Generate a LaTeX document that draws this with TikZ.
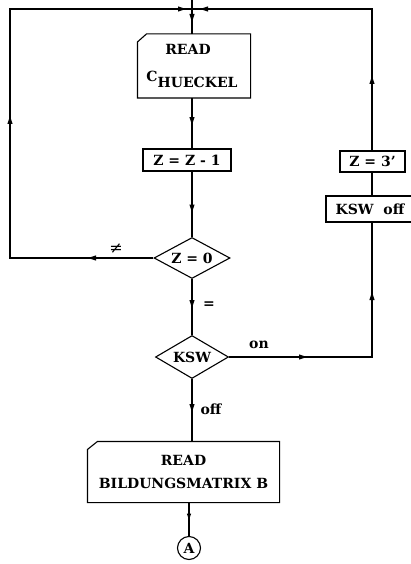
\documentclass[tikz,border=0pt]{standalone}
\usepackage{fontspec}
\setmainfont{DejaVu Serif}
\usetikzlibrary{shapes.geometric,calc}
\begin{document}
\begin{tikzpicture}[x=1pt,y=-1pt,
  line width=1.1pt,
  every node/.style={font=\bfseries\fontsize{14}{16}\selectfont},
  procbox/.style={draw,rectangle,inner sep=0pt},
  iobox/.style={rectangle,inner sep=0pt,align=center},
  decision/.style={draw,diamond,aspect=1.8,inner sep=0pt},
  connector/.style={draw,circle,inner sep=0pt,minimum size=23pt},
  lbl/.style={inner sep=1pt},
  arrD/.pic={\fill (-2.6,-8) -- (2.6,-8) -- (0,0) -- cycle;},
  arrU/.pic={\fill (-2.6,8) -- (2.6,8) -- (0,0) -- cycle;},
  arrL/.pic={\fill (8,-2.6) -- (8,2.6) -- (0,0) -- cycle;},
  arrR/.pic={\fill (-8,-2.6) -- (-8,2.6) -- (0,0) -- cycle;},
  arrDs/.pic={\fill (-2.2,-6) -- (2.2,-6) -- (0,0) -- cycle;},
]
\useasboundingbox (0,0) rectangle (411,564);

% column coordinates
\coordinate (cx) at (192,0);
\coordinate (rx) at (372,0);
\coordinate (lx) at (10,0);
\coordinate (top) at (192,0);
\coordinate (jn) at (192,9);

% nodes
\node[iobox,minimum width=112pt,minimum height=63pt] (read) at (194,66) {};
\node (readt) at (188,49) {READ};
\node (ch) at (192,79) {C\raisebox{-6pt}{HUECKEL}};
\draw (read.north west) ++(0,8) -- ++(9,-8) -- (read.north east) -- (read.south east) -- (read.south west) -- cycle;

\node[procbox,minimum width=88pt,minimum height=22pt] (zz) at (187,160) {Z = Z - 1};
\node[decision,minimum width=76pt,minimum height=41pt] (z0) at (192,258) {Z = 0};
\node[decision,minimum width=73pt,minimum height=43pt] (kswd) at (192,357) {KSW};

\node[iobox,minimum width=191pt,minimum height=60pt] (bild) at (183.5,472) {READ\\[7pt]BILDUNGSMATRIX B};
\draw (bild.north west) ++(0,8) -- ++(10,-8) -- (bild.north east) -- (bild.south east) -- (bild.south west) -- cycle;

\node[connector] (ca) at (189,548) {A};

\node[procbox,minimum width=65pt,minimum height=21pt] (z3) at (372.5,161.5) {Z = 3'};
\node[procbox,minimum width=88pt,minimum height=26pt] (ksoff) at (370,209) {KSW~~off\hspace{12pt}};

% labels
\node[lbl,font=\fontsize{16}{16}\selectfont] (lne) at (116,249) {≠};
\node[lbl] (leq) at (209,305) {=};
\node[lbl] (lon) at (259,345) {on};
\node[lbl] (loff) at (211,409) {off};

% central column
\draw (top) -- (read.north -| cx);
\pic at ($(top)+(0,22)$) {arrD};
\draw (read.south -| cx) -- (zz.north -| cx);
\pic at ($(read.south -| cx)+(0,27)$) {arrD};
\draw (zz.south -| cx) -- (z0.north);
\pic at ($(zz.south -| cx)+(0,41)$) {arrD};
\draw (z0.south) -- (kswd.north);
\pic at ($(z0.south)+(0,29)$) {arrD};
\draw (kswd.south) -- (bild.north -| kswd.south);
\pic at ($(kswd.south)+(0,33)$) {arrD};
\draw (bild.south -| ca.north) -- (ca.north);
\pic at ($(bild.south -| ca.north)+(0,17)$) {arrDs};

% left loop (not equal)
\draw (z0.west) -- (z0.west -| lx) -- (jn -| lx) -- (jn);
\pic at ($(z0.west -| lx)+(78,0)$) {arrL};
\pic at ($(lx)+(0,116)$) {arrU};
\pic at ($(jn)+(-6,0)$) {arrR};

% right loop (on)
\draw (kswd.east) -- (kswd.east -| rx) -- (ksoff.south -| rx);
\pic at ($(kswd.east)+(78,0)$) {arrR};
\pic at ($(rx)+(0,292)$) {arrU};
\draw (ksoff.north -| rx) -- (z3.south -| rx);
\draw (z3.north -| rx) -- (jn -| rx) -- (jn);
\pic at ($(rx)+(0,76)$) {arrU};
\pic at ($(jn)+(8,0)$) {arrL};
\end{tikzpicture}
\end{document}
